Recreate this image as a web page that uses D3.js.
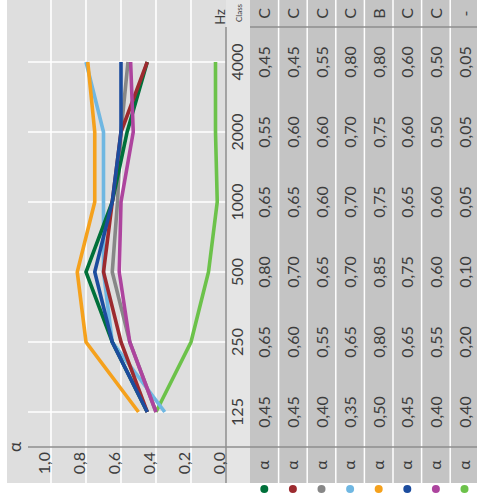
<!DOCTYPE html>
<html><head><meta charset="utf-8">
<script src="https://cdn.jsdelivr.net/npm/d3@7"></script>
<style>html,body{margin:0;padding:0;background:#fff;}svg{display:block;font-family:Lato,"Noto Sans",sans-serif;}</style>
</head><body>
<svg id="c" width="477" height="493"></svg>
<script>
const freqs = ["125","250","500","1000","2000","4000"];
const alphaTicks = [0,0.2,0.4,0.6,0.8,1.0];
const seriesColors = ["#00703a","#9c2a2f","#878787","#6fb7e2","#f5a11c","#1c4c9e","#ad449e","#6cc24a"];
const seriesClasses = ["C","C","C","C","B","C","C","-"];
// values printed in the table
const t1 = ["0,45","0,65","0,80","0,65","0,55","0,45"];
const t2 = ["0,45","0,60","0,70","0,65","0,60","0,45"];
const t3 = ["0,40","0,55","0,65","0,60","0,60","0,55"];
const t4 = ["0,35","0,65","0,70","0,70","0,70","0,80"];
const t5 = ["0,50","0,80","0,85","0,75","0,75","0,80"];
const t6 = ["0,45","0,65","0,75","0,65","0,60","0,60"];
const t7 = ["0,40","0,55","0,60","0,60","0,50","0,50"];
const t8 = ["0,40","0,20","0,10","0,05","0,05","0,05"];
const tableRows = [t1,t2,t3,t4,t5,t6,t7,t8];
// values as plotted by the lines
const s1 = [0.45,0.65,0.80,0.65,0.565,0.45];
const s2 = [0.45,0.60,0.70,0.65,0.60,0.45];
const s3 = [0.40,0.55,0.65,0.62,0.60,0.56];
const s4 = [0.35,0.65,0.70,0.70,0.70,0.80];
const s5 = [0.50,0.80,0.85,0.75,0.75,0.79];
const s6 = [0.45,0.65,0.75,0.65,0.60,0.60];
const s7 = [0.40,0.55,0.61,0.60,0.53,0.545];
const s8 = [0.40,0.20,0.10,0.05,0.06,0.06];
const seriesValues = [s1,s2,s3,s4,s5,s6,s7,s8];
const drawOrder = [7,3,2,0,1,5,6,4];

const fmt1 = v => d3.format(".1f")(v).replace(".", ",");

const svg = d3.select("#c");
// unrotated frame: width 493, height 477; rotated -90deg
const g = svg.append("g").attr("transform","translate(0,493) rotate(-90)");
const W = 493, H = 477;

const x = d3.scalePoint().domain(freqs).range([81,431]);
const y = d3.scaleLinear().domain([0,1]).range([226,51]);
const row = d3.scaleBand().domain(d3.range(8)).range([250, 250+8*28.6]);

const txt = "#3d3d3d";

// backgrounds
g.append("rect").attr("x",10).attr("y",7).attr("width",W-10).attr("height",226-7).attr("fill","#dedede");
g.append("rect").attr("x",10).attr("y",226).attr("width",W-10).attr("height",24).attr("fill","#e5e5e5");
g.append("rect").attr("x",10).attr("y",250).attr("width",W-10).attr("height",H-250).attr("fill","#c4c4c4");
// table separators
g.selectAll("line.sep").data(d3.range(1,8)).enter().append("line")
  .attr("x1",10).attr("x2",W).attr("y1",d=>row(d)).attr("y2",d=>row(d))
  .attr("stroke","#fff").attr("stroke-width",1.5);

// gridlines
g.selectAll("line.gy").data(alphaTicks.filter(d=>d>0)).enter().append("line")
  .attr("x1",10).attr("x2",W).attr("y1",d=>y(d)).attr("y2",d=>y(d))
  .attr("stroke","#fff").attr("stroke-width",1.6);
g.selectAll("line.gx").data(freqs).enter().append("line")
  .attr("x1",d=>x(d)).attr("x2",d=>x(d)).attr("y1",28).attr("y2",226)
  .attr("stroke","#fff").attr("stroke-width",1.6);

// axis lines
g.append("line").attr("x1",46).attr("x2",46).attr("y1",28).attr("y2",H).attr("stroke","#8e8e8e").attr("stroke-width",1.5);
g.append("line").attr("x1",10).attr("x2",466).attr("y1",226).attr("y2",226).attr("stroke","#8e8e8e").attr("stroke-width",1.5);
g.append("line").attr("x1",466).attr("x2",466).attr("y1",250).attr("y2",H).attr("stroke","#8e8e8e").attr("stroke-width",1.5);

// alpha tick labels
g.selectAll("text.yt").data(alphaTicks).enter().append("text")
  .attr("x",41).attr("y",d=>y(d)-1).attr("text-anchor","end")
  .attr("font-size",16).attr("fill",txt).text(fmt1);
g.append("text").attr("x",46).attr("y",21).attr("text-anchor","middle").attr("font-size",17).attr("fill",txt).text("α");

// freq labels
g.selectAll("text.xt").data(freqs).enter().append("text")
  .attr("x",d=>x(d)).attr("y",243).attr("text-anchor","middle")
  .attr("font-size",16).attr("fill",txt).text(d=>d);
g.append("text").attr("x",476).attr("y",225).attr("text-anchor","middle").attr("font-size",13).attr("fill",txt).text("Hz");
g.append("text").attr("x",480).attr("y",242).attr("text-anchor","middle").attr("font-size",8).attr("fill",txt).text("Class");

// lines
const line = d3.line().x((d,i)=>x(freqs[i])).y(d=>y(d));
g.selectAll("path.s").data(drawOrder).enter().append("path")
  .attr("d",i=>line(seriesValues[i])).attr("fill","none")
  .attr("stroke",i=>seriesColors[i]).attr("stroke-width",3.6).attr("stroke-linejoin","miter");

// table contents
tableRows.forEach((vals,i)=>{
  const cy = row(i)+row.bandwidth()/2;
  vals.forEach((v,j)=>{
    g.append("text").attr("x",x(freqs[j])).attr("y",cy+6).attr("text-anchor","middle")
      .attr("font-size",16).attr("fill",txt).text(v);
  });
  g.append("text").attr("x",479.5).attr("y",cy+6).attr("text-anchor","middle")
    .attr("font-size",16).attr("fill",txt).text(seriesClasses[i]);
  g.append("text").attr("x",28).attr("y",cy+5).attr("text-anchor","middle")
    .attr("font-size",16).attr("fill",txt).text("α");
  g.append("circle").attr("cx",4).attr("cy",cy).attr("r",4).attr("fill",seriesColors[i]);
});
</script>
</body></html>
